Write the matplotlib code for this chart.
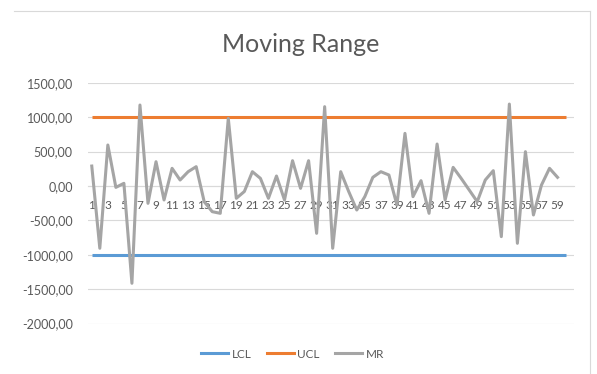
import matplotlib
matplotlib.use("Agg")
import matplotlib.pyplot as plt
from matplotlib.lines import Line2D

plt.rcParams['font.family'] = ['Lato', 'DejaVu Sans']

# categories 1..60, MR has one value less
categories = list(range(1, 61))
lcl = [-1000.0] * 60
ucl = [1000.0] * 60
mr = [290, -905, 596, -20, 39, -1414, 1177, -252, 353, -203,
      257, 87, 208, 281, -228, -373, -397, 983, -179, -80,
      208, 111, -179, 145, -203, 368, -34, 368, -688, 1153,
      -905, 208, -82, -349, -155, 126, 208, 160, -276, 765,
      -155, 77, -397, 610, -203, 271, 111, -58, -228, 87,
      223, -736, 1191, -833, 499, -421, 14, 257, 126]
yticks = [-2000, -1500, -1000, -500, 0, 500, 1000, 1500]

blue = '#5B9BD5'
orange = '#ED7D31'
gray = '#A5A5A5'
txt = '#595959'

fig = plt.figure(figsize=(5.97, 3.74), dpi=100)
ax = fig.add_axes([88/597, 1-323.6/374, (574-88)/597, (323.6-82.8)/374])

ax.plot(categories, lcl, color=blue, lw=2.2, solid_capstyle='butt', label='LCL', zorder=3)
ax.plot(categories, ucl, color=orange, lw=2.2, solid_capstyle='butt', label='UCL', zorder=3)
ax.plot(categories[:len(mr)], mr, color=gray, lw=2.2, label='MR', zorder=4)

ax.set_xlim(0.53, 61.05)
ax.set_ylim(-2000, 1500)
ax.set_yticks(yticks)
ax.set_yticklabels([f"{v},00" for v in yticks])
ax.yaxis.grid(True, color='#D9D9D9', lw=0.8)
ax.set_axisbelow(True)

ax.set_xticks(categories)
ax.set_xticklabels([str(c) if c % 2 == 1 else '' for c in categories])
ax.spines['bottom'].set_position(('data', 0))
ax.spines['bottom'].set_color('#D9D9D9')
for s in ['top', 'right', 'left']:
    ax.spines[s].set_visible(False)
ax.tick_params(axis='x', length=0, pad=10, labelsize=8.5, labelcolor=txt)
ax.tick_params(axis='y', length=0, pad=11, labelsize=9, labelcolor=txt)

fig.text(0.503, 1-45/374, 'Moving Range', ha='center', va='center', fontsize=18, color=txt)

handles = [Line2D([], [], color=blue, lw=2.2),
           Line2D([], [], color=orange, lw=2.2),
           Line2D([], [], color=gray, lw=2.2)]
fig.legend(handles, ['LCL', 'UCL', 'MR'], loc='center', bbox_to_anchor=(0.49, 1-354/374),
           ncol=3, frameon=False, fontsize=8.5, handlelength=2.3, handletextpad=0.3,
           columnspacing=1.3, labelcolor=txt)

# chart frame (top and right edges visible)
fig.add_artist(Line2D([14/597, 590/597], [1-11/374, 1-11/374], color='#D9D9D9', lw=0.8))
fig.add_artist(Line2D([590/597, 590/597], [1-11/374, 0], color='#D9D9D9', lw=0.8))

fig.savefig('out.png', dpi=100, facecolor='white')
